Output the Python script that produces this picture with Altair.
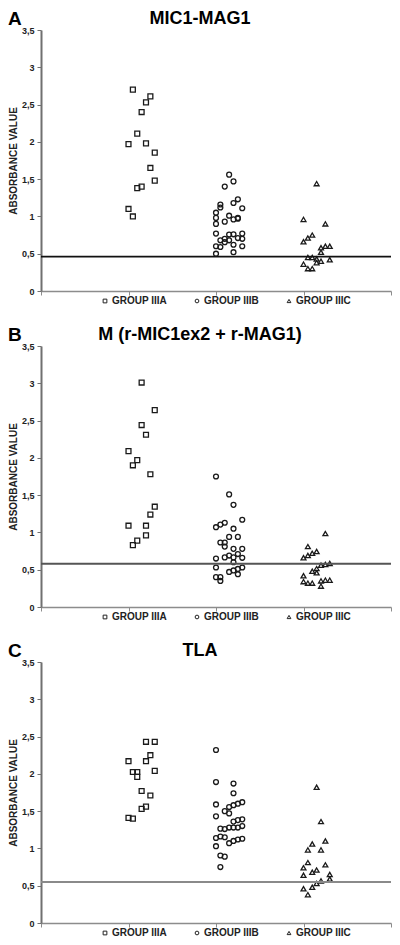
import altair as alt
import pandas as pd

groups = ["GROUP IIIA", "GROUP IIIB", "GROUP IIIC"]
shapes = ["square", "circle", "triangle-up"]
panel_letters = ["A", "B", "C"]
panel_titles = ["MIC1-MAG1", "M (r-MIC1ex2 + r-MAG1)", "TLA"]
cutoffs = [0.46, 0.58, 0.55]
cutoff_colors = ["#111111", "#555555", "#8a8a8a"]
y_ticks = [0, 0.5, 1, 1.5, 2, 2.5, 3, 3.5]
x_ticks = [0, 1, 2, 3, 4]

# ---- Panel A: MIC1-MAG1 ----
a_iiia_x = [1.05, 1.25, 1.2, 1.15, 1.1, 1.0, 1.2, 1.3, 1.25, 1.3, 1.1, 1.15, 1.0, 1.05]
a_iiia_y = [2.70, 2.61, 2.53, 2.40, 2.11, 1.97, 1.98, 1.855, 1.65, 1.48, 1.38, 1.40, 1.10, 1.00]
a_iiib_x = [2.15, 2.2, 2.1, 2.25, 2.05, 2.05, 2.2, 2.3, 2.0, 2.0, 2.0, 2.1, 2.15, 2.2, 2.25, 2.25,
            2.0, 2.1, 2.15, 2.2, 2.25, 2.3, 2.3, 2.1, 2.15, 2.2, 2.0, 2.05, 2.3, 2.2, 2.0, 2.05]
a_iiib_y = [1.56, 1.47, 1.40, 1.23, 1.16, 1.12, 1.18, 1.11, 1.05, 0.98, 0.90, 0.93, 1.01, 0.96, 0.98, 0.97,
            0.77, 0.70, 0.757, 0.76, 0.71, 0.77, 0.70, 0.655, 0.68, 0.62, 0.60, 0.59, 0.60, 0.52, 0.50, 0.68]
a_iiic_x = [3.15, 3.0, 3.25, 3.1, 3.05, 3.0, 3.2, 3.25, 3.3, 3.2, 3.05, 3.1, 3.15, 3.2, 3.3, 3.15, 3.0, 3.05, 3.1]
a_iiic_y = [1.44, 0.96, 0.90, 0.75, 0.71, 0.66, 0.58, 0.60, 0.60, 0.52, 0.45, 0.45, 0.43, 0.40, 0.42, 0.38, 0.36, 0.30, 0.30]

# ---- Panel B: M (r-MIC1ex2 + r-MAG1) ----
b_iiia_x = [1.15, 1.3, 1.15, 1.2, 1.0, 1.1, 1.05, 1.25, 1.3, 1.25, 1.0, 1.2, 1.2, 1.1, 1.05]
b_iiia_y = [3.01, 2.64, 2.44, 2.31, 2.09, 1.97, 1.90, 1.78, 1.345, 1.24, 1.09, 1.09, 0.96, 0.89, 0.83]
b_iiib_x = [2.0, 2.15, 2.2, 2.3, 2.1, 2.05, 2.0, 2.2, 2.15, 2.25, 2.05, 2.1, 2.1, 2.2, 2.3, 2.25,
            2.15, 2.1, 2.0, 2.2, 2.3, 2.2, 2.0, 2.25, 2.3, 2.2, 2.15, 2.25, 2.0, 2.05, 2.05]
b_iiib_y = [1.75, 1.51, 1.37, 1.17, 1.13, 1.105, 1.07, 1.05, 0.94, 0.94, 0.865, 0.865, 0.81, 0.78, 0.78, 0.71,
            0.69, 0.665, 0.65, 0.665, 0.66, 0.60, 0.53, 0.51, 0.53, 0.49, 0.47, 0.44, 0.40, 0.40, 0.35]
b_iiic_x = [3.25, 3.05, 3.15, 3.1, 3.05, 3.0, 3.3, 3.25, 3.2, 3.15, 3.1, 3.15, 3.0, 3.0, 3.05, 3.1, 3.3, 3.25, 3.2, 3.2]
b_iiic_y = [0.985, 0.81, 0.745, 0.72, 0.69, 0.66, 0.585, 0.57, 0.56, 0.515, 0.48, 0.46, 0.42, 0.34, 0.32, 0.32, 0.36, 0.36, 0.35, 0.28]

# ---- Panel C: TLA ----
c_iiia_x = [1.2, 1.3, 1.25, 1.0, 1.2, 1.3, 1.05, 1.1, 1.1, 1.15, 1.25, 1.2, 1.15, 1.0, 1.05]
c_iiia_y = [2.43, 2.43, 2.25, 2.17, 2.17, 2.04, 2.025, 2.025, 1.96, 1.77, 1.71, 1.56, 1.53, 1.41, 1.40]
c_iiib_x = [2.0, 2.0, 2.2, 2.2, 2.0, 2.3, 2.25, 2.2, 2.15, 2.1, 2.15, 2.0, 2.3, 2.25, 2.2, 2.3,
            2.25, 2.2, 2.15, 2.1, 2.05, 2.0, 2.05, 2.1, 2.3, 2.25, 2.2, 2.15, 2.0, 2.05, 2.1, 2.05]
c_iiib_y = [2.32, 1.89, 1.87, 1.74, 1.59, 1.62, 1.60, 1.58, 1.555, 1.50, 1.47, 1.43, 1.39, 1.38, 1.36, 1.30,
            1.28, 1.28, 1.28, 1.26, 1.265, 1.14, 1.16, 1.15, 1.13, 1.12, 1.10, 1.07, 1.03, 0.905, 0.89, 0.75]
c_iiic_x = [3.15, 3.2, 3.25, 3.1, 3.05, 3.2, 3.05, 3.25, 3.0, 3.15, 3.1, 3.0, 3.3, 3.3, 3.2, 3.15, 3.1, 3.0, 3.05]
c_iiic_y = [1.82, 1.36, 1.10, 1.06, 0.98, 0.98, 0.81, 0.78, 0.74, 0.71, 0.68, 0.64, 0.65, 0.59, 0.565, 0.53, 0.48, 0.46, 0.38]

panels_data = [
    [(a_iiia_x, a_iiia_y), (a_iiib_x, a_iiib_y), (a_iiic_x, a_iiic_y)],
    [(b_iiia_x, b_iiia_y), (b_iiib_x, b_iiib_y), (b_iiic_x, b_iiic_y)],
    [(c_iiia_x, c_iiia_y), (c_iiib_x, c_iiib_y), (c_iiic_x, c_iiic_y)],
]

FONT = "Liberation Sans"
PLOT_W = 350
PLOT_H = 261


def make_panel(i):
    rows = []
    for g, (xs, ys) in zip(groups, panels_data[i]):
        for xv, yv in zip(xs, ys):
            rows.append({"x": xv, "y": yv, "group": g})
    df = pd.DataFrame(rows)

    x_enc = alt.X(
        "x:Q",
        scale=alt.Scale(domain=[0, 4], nice=False, zero=False),
        axis=alt.Axis(values=x_ticks, labels=False, title=None, tickSize=4,
                      tickColor="#8c8c8c", domainColor="#8c8c8c", domainWidth=1.5,
                      tickWidth=1, grid=False),
    )
    y_axis = alt.Axis(
        values=y_ticks,
        labelExpr="replace(format(datum.value, '~g'), '.', ',')",
        labelOverlap=False,
        title="ABSORBANCE VALUE",
        titleFont=FONT, titleFontSize=10, titleFontWeight="bold", titleColor="#222222",
        titlePadding=3,
        labelFont=FONT, labelFontSize=9, labelFontWeight="bold", labelColor="#222222",
        labelPadding=3, tickSize=4, tickColor="#707070", domainColor="#707070",
        domainWidth=2, grid=False,
    )
    y_enc = alt.Y("y:Q", scale=alt.Scale(domain=[0, 3.5], nice=False), axis=y_axis)

    points = alt.Chart(df).mark_point(
        filled=False, color="#1a1a1a", strokeWidth=1.3, size=24, opacity=1
    ).encode(
        x=x_enc,
        y=y_enc,
        shape=alt.Shape(
            "group:N",
            scale=alt.Scale(domain=groups, range=shapes),
            legend=alt.Legend(
                title=None, orient="none", legendX=59, legendY=PLOT_H + 5,
                direction="horizontal", symbolSize=14, symbolStrokeWidth=1,
                symbolStrokeColor="#222222",
                labelFont=FONT, labelFontSize=10, labelFontWeight="bold",
                labelColor="#222222", labelOffset=2, columnPadding=24,
            ),
        ),
    )

    rule = alt.Chart(pd.DataFrame({"y": [cutoffs[i]]})).mark_rule(
        color=cutoff_colors[i], strokeWidth=1.8
    ).encode(y=y_enc)

    letter = alt.Chart(pd.DataFrame({"t": [panel_letters[i]]})).mark_text(
        align="left", baseline="top", font=FONT, fontSize=19, fontWeight="bold", color="black"
    ).encode(text="t:N", x=alt.value(-33), y=alt.value(-20))

    title = alt.Chart(pd.DataFrame({"t": [panel_titles[i]]})).mark_text(
        align="center", baseline="top", font=FONT, fontSize=18, fontWeight="bold", color="black"
    ).encode(text="t:N", x=alt.value(159), y=alt.value(-20))

    return alt.layer(points, rule, letter, title).properties(width=PLOT_W, height=PLOT_H)


chart = alt.vconcat(
    make_panel(0), make_panel(1), make_panel(2), spacing=55, bounds="flush"
).resolve_legend(shape="independent").configure_view(stroke=None).properties(
    padding={"left": 0, "top": 2, "right": 0, "bottom": 0}
)

chart.save("out.html", embed_options={"renderer": "svg", "actions": False})
